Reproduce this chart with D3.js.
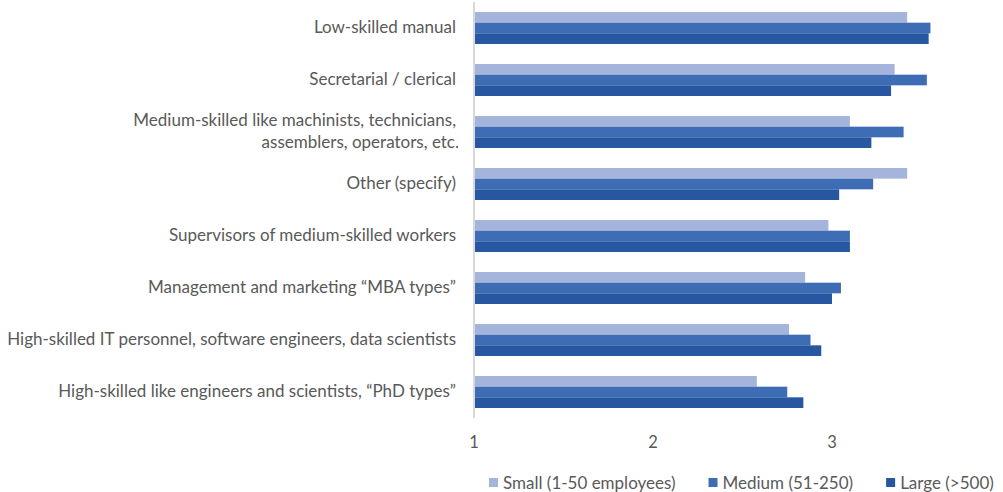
<!DOCTYPE html>
<html>
<head>
<meta charset="utf-8">
<script src="https://cdn.jsdelivr.net/npm/d3@7"></script>
<style>
  body { margin: 0; background: #fff; }
  svg text { font-family: "Source Sans Pro", Lato, "Open Sans", sans-serif; fill: #595959; }
</style>
</head>
<body>
<div id="chart"></div>
<script>
// categories, top to bottom
const categories = [
    "Low-skilled manual",
    "Secretarial / clerical",
    "Medium-skilled like machinists, technicians,|assemblers, operators, etc.",
    "Other (specify)",
    "Supervisors of medium-skilled workers",
    "Management and marketing \u201cMBA types\u201d",
    "High-skilled IT personnel, software engineers, data scientists",
    "High-skilled like engineers and scientists, \u201cPhD types\u201d"
];
const seriesNames = ["Small (1-50 employees)", "Medium (51-250)", "Large (>500)"];
const small  = [3.42, 3.35, 3.10, 3.42, 2.98, 2.85, 2.76, 2.58];
const medium = [3.55, 3.53, 3.40, 3.23, 3.10, 3.05, 2.88, 2.75];
const large  = [3.54, 3.33, 3.22, 3.04, 3.10, 3.00, 2.94, 2.84];
const xTicks = [1, 2, 3];
const colors = ["#a5b4da", "#3e6db5", "#2657a0"];

const W = 1003, H = 492;
const plot = { left: 474, right: 1011, top: 2, bottom: 418 };

const svg = d3.select("#chart").append("svg")
    .attr("width", W)
    .attr("height", H);

const data = categories.map((c, i) => ({ cat: c, vals: [small[i], medium[i], large[i]] }));

// scales
const x = d3.scaleLinear()
    .domain([1, 4])
    .range([plot.left, plot.right]);

const y0 = d3.scaleBand()
    .domain(categories)
    .range([plot.top, plot.bottom])
    .paddingInner(0.385)
    .paddingOuter(0.1925);

const y1 = d3.scaleBand()
    .domain(d3.range(seriesNames.length))
    .range([0, y0.bandwidth()]);

// bars
const groups = svg.append("g")
    .selectAll("g")
    .data(data)
    .join("g")
    .attr("transform", d => `translate(0,${y0(d.cat)})`);

groups.selectAll("rect")
    .data(d => d.vals.map((v, k) => ({ v, k })))
    .join("rect")
    .attr("x", x(1) + 1)
    .attr("y", d => y1(d.k))
    .attr("width", d => x(d.v) - x(1) - 1)
    .attr("height", y1.bandwidth())
    .attr("fill", d => colors[d.k]);

// vertical axis line at value 1
svg.append("line")
    .attr("x1", x(1)).attr("x2", x(1))
    .attr("y1", plot.top).attr("y2", plot.bottom)
    .attr("stroke", "#d9d9d9")
    .attr("stroke-width", 2);

// category labels
const labels = svg.append("g")
    .selectAll("text")
    .data(categories)
    .join("text")
    .attr("text-anchor", "end")
    .style("font-size", "17px")
    .attr("y", d => y0(d) + y0.bandwidth() / 2);

labels.each(function (d) {
    const lines = d.split("|");
    const t = d3.select(this);
    lines.forEach((ln, i) => {
        t.append("tspan")
            .attr("x", 456 + (i > 0 ? 3 : 0))
            .attr("dy", i === 0 ? ((-(lines.length - 1) * 22) / 2 + 5) + "px" : "22px")
            .text(ln);
    });
});

// x tick labels
svg.append("g")
    .selectAll("text")
    .data(xTicks)
    .join("text")
    .attr("x", d => x(d))
    .attr("y", 448)
    .attr("text-anchor", "middle")
    .style("font-size", "16.5px")
    .text(d => d);

// legend
const legend = svg.append("g").attr("transform", "translate(489,483)");
let lx = 0;
seriesNames.forEach((name, k) => {
    legend.append("rect")
        .attr("x", lx).attr("y", -5)
        .attr("width", 9).attr("height", 9)
        .attr("fill", colors[k]);
    const t = legend.append("text")
        .attr("x", lx + 14)
        .attr("y", 6)
        .style("font-size", "17px")
        .text(name);
    lx += 14 + t.node().getComputedTextLength() + 33;
});
</script>
</body>
</html>
